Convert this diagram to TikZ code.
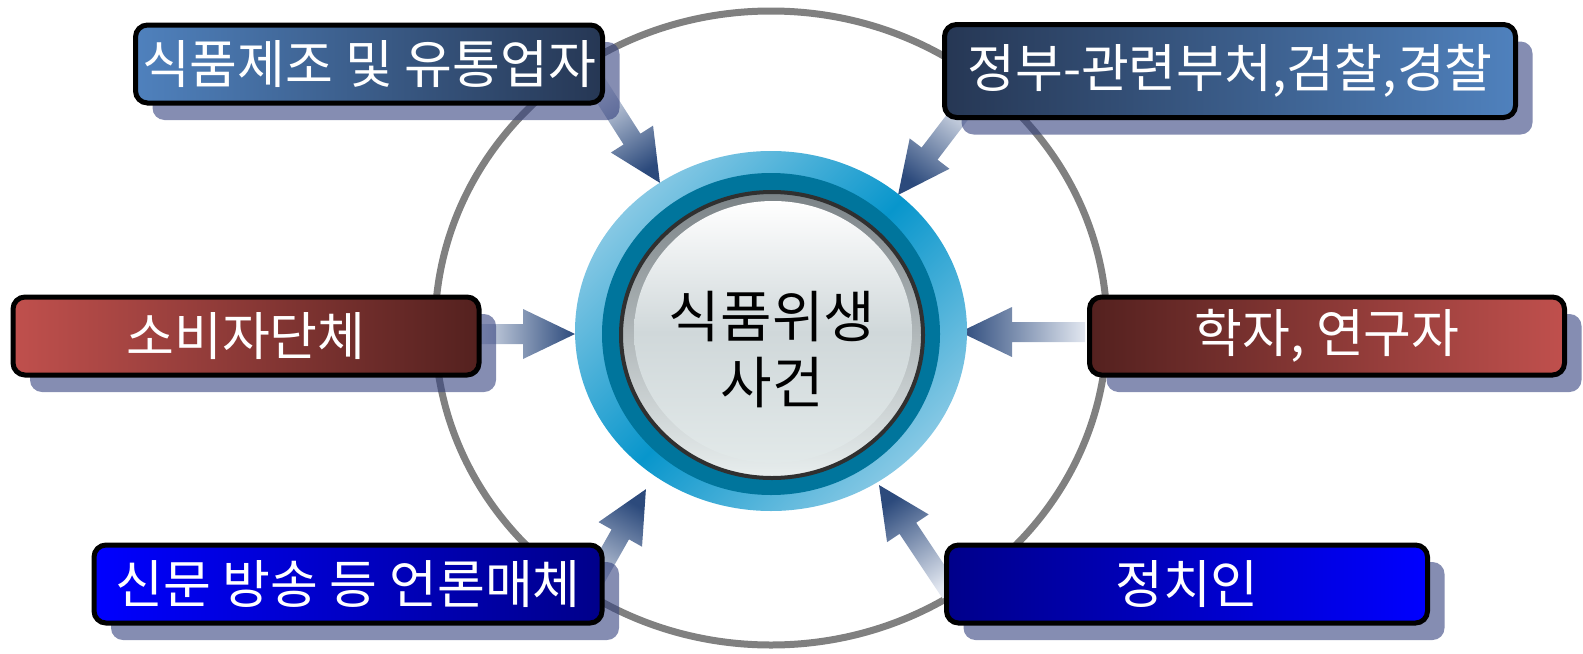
\documentclass[tikz,border=0pt]{standalone}
\usepackage{fontspec}
\setmainfont{Noto Sans CJK KR}
\usetikzlibrary{shadows,calc}

\definecolor{ringgray}{RGB}{128,128,128}
\definecolor{arrL}{RGB}{226,231,240}
\definecolor{arrD}{RGB}{44,74,124}
\definecolor{shadowc}{RGB}{52,65,126}
\definecolor{steelA}{RGB}{79,129,189}
\definecolor{steelB}{RGB}{38,55,84}
\definecolor{redA}{RGB}{192,80,77}
\definecolor{redB}{RGB}{84,33,31}
\definecolor{blueA}{RGB}{0,0,255}
\definecolor{blueB}{RGB}{0,0,138}
\definecolor{ringL}{RGB}{134,200,228}
\definecolor{ringM}{RGB}{8,150,204}
\definecolor{tealc}{RGB}{0,117,156}
\definecolor{discA}{RGB}{122,130,134}
\definecolor{discB}{RGB}{232,238,238}
\definecolor{discM}{RGB}{208,216,218}
\definecolor{discN}{RGB}{226,233,233}
\definecolor{discline}{RGB}{48,48,48}

\tikzset{
  box/.style={rectangle, rounded corners=6pt, draw=black, line width=2.5pt,
    text=white, font=\fontsize{26}{30}\selectfont, inner sep=0pt,
    minimum height=39pt,
    general shadow={shadow xshift=8.5pt, shadow yshift=-8.5pt, fill=shadowc, opacity=0.6}},
  arrowshade/.style={top color=arrD, bottom color=arrL},
}

\newcommand\blockarrow[2]{%
  \pgfpointdiff{\pgfpointanchor{#1}{center}}{\pgfpointanchor{#2}{center}}%
  \pgfgetlastxy{\arrdx}{\arrdy}%
  \pgfmathsetmacro\arrang{atan2(\arrdy,\arrdx)}%
  \pgfmathsetmacro\arrlen{veclen(\arrdx,\arrdy)}%
  \pgfmathsetmacro\arrsh{\arrang-90}%
  \shade[arrowshade, shading angle=\arrsh, shift={(#1)}, rotate=\arrang]
    (0pt,-5pt) -- ({(\arrlen-26)*1pt},-5pt) -- ({(\arrlen-26)*1pt},-12.5pt)
    -- ({\arrlen*1pt},0pt) -- ({(\arrlen-26)*1pt},12.5pt)
    -- ({(\arrlen-26)*1pt},5pt) -- (0pt,5pt) -- cycle;
}

\begin{document}
\begin{tikzpicture}[x=0.5pt,y=-0.5pt]
\useasboundingbox (0,0) rectangle (1583,653);

% outer grey ring
\draw[ringgray, line width=3.5pt] (771,328) ellipse [x radius=336, y radius=317];

% arrow end points
\coordinate (t1) at (593,78);   \coordinate (h1) at (660,183);
\coordinate (t2) at (972,98);   \coordinate (h2) at (898,195);
\coordinate (t3) at (470,334);  \coordinate (h3) at (575,334);
\coordinate (t4) at (1085,332); \coordinate (h4) at (960,332);
\coordinate (t5) at (582,602);  \coordinate (h5) at (646,489);
\coordinate (t6) at (951,593);  \coordinate (h6) at (879,485);

\blockarrow{t1}{h1}
\blockarrow{t2}{h2}
\blockarrow{t3}{h3}
\blockarrow{t4}{h4}
\blockarrow{t5}{h5}
\blockarrow{t6}{h6}

% central button
\shade[top color=ringL, bottom color=ringL, middle color=ringM, shading angle=45]
  (771,331) ellipse [x radius=196, y radius=180];
\fill[tealc] (771,334) ellipse [x radius=169, y radius=161];
\shadedraw[top color=discA, bottom color=discB, draw=discline, line width=2pt]
  (772,335) ellipse [x radius=151, y radius=143];
\shade[top color=white, bottom color=discN, middle color=discM]
  (773,332) ellipse [x radius=139, y radius=131];
\node[font=\fontsize{28}{33}\selectfont, align=center, text=black] (c) at (772,350) {식품위생\\사건};

% boxes
\node[box, left color=steelA, right color=steelB, minimum width=233.5pt] (b1) at (369,64) {식품제조 및 유통업자};
\node[box, left color=steelB, right color=steelA, minimum width=285.5pt, minimum height=46.5pt] (b2) at (1230,71) {정부-관련부처,검찰,경찰};
\node[box, left color=redA, right color=redB, minimum width=233pt] (b3) at (246,336) {소비자단체};
\node[box, left color=redB, right color=redA, minimum width=237.5pt] (b4) at (1327,336) {학자, 연구자};
\node[box, left color=blueA, right color=blueB, minimum width=254pt] (b5) at (348,584) {신문 방송 등 언론매체};
\node[box, left color=blueB, right color=blueA, minimum width=240.5pt] (b6) at (1187,584) {정치인};
\end{tikzpicture}
\end{document}
